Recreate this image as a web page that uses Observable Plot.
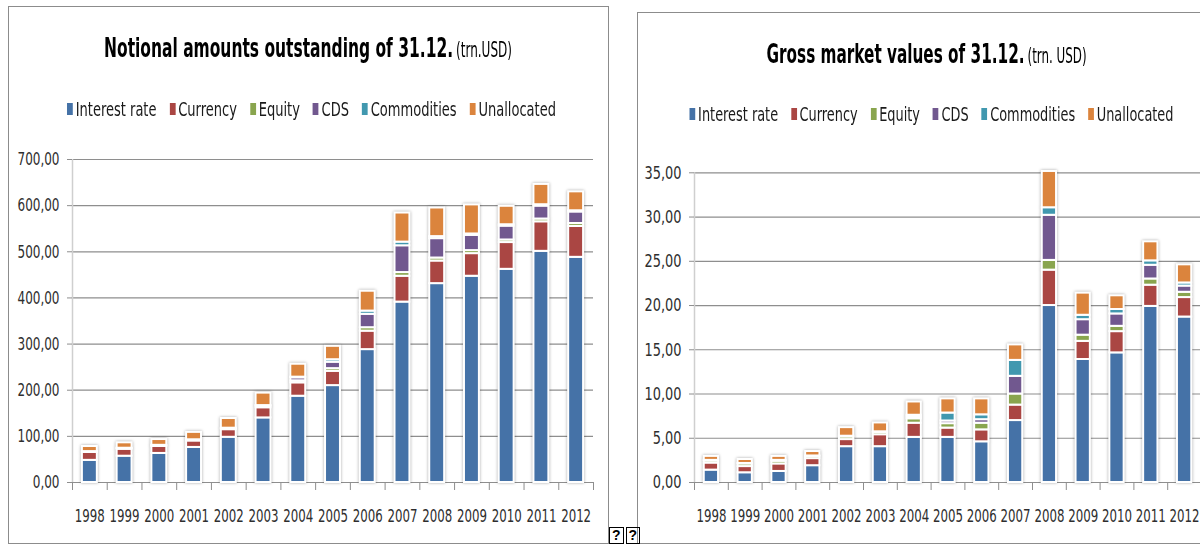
<!DOCTYPE html>
<html><head><meta charset="utf-8">
<script src="https://cdn.jsdelivr.net/npm/d3@7"></script>
<script src="https://cdn.jsdelivr.net/npm/@observablehq/plot@0.6"></script>
<style>
html,body{margin:0;padding:0;background:#fff;width:1200px;height:544px;overflow:hidden;}
body{position:relative;}
.panel{position:absolute;border:1.5px solid #8c8c8c;box-sizing:border-box;background:#fff;}
.title{position:absolute;white-space:nowrap;color:#000;line-height:30px;transform-origin:center center;}
.title b{font-weight:bold;font-size:27px;}
.title span{font-size:21px;}
.legend{position:absolute;white-space:nowrap;display:flex;align-items:center;gap:18px;font-size:20px;line-height:22px;color:#1a1a1a;transform-origin:center center;}
.legend .it{display:flex;align-items:center;gap:4px}
.legend .sw{width:8px;height:12px;display:inline-block}
.chart{position:absolute;overflow:visible;}
.chart svg{max-width:none !important;}
.tofu{position:absolute;top:527px;display:flex;gap:2px;}
.tofu span{display:inline-block;border:1.5px solid #000;font:bold 14px sans-serif;line-height:15px;padding:0 2px;color:#000;}
</style>
</head><body>
<div class="panel" style="left:8px;top:6px;width:601px;height:538px"></div>
<div class="panel" style="left:637px;top:12px;width:620px;height:532px"></div>
<div id="t1" class="title"><b>Notional amounts outstanding of 31.12.</b> <span>(trn.USD)</span></div>
<div id="t2" class="title"><b>Gross market values of 31.12.</b> <span>(trn. USD)</span></div>
<div id="l1" class="legend"></div>
<div id="l2" class="legend"></div>
<div id="c1" class="chart" style="left:0px;top:130px;width:608px;height:410px"></div>
<div id="c2" class="chart" style="left:620px;top:130px;width:600px;height:410px"></div>
<div class="tofu" style="left:609px"><span>?</span><span>?</span></div>
<script>
// ---------- DATA ----------
const years = [1998,1999,2000,2001,2002,2003,2004,2005,2006,2007,2008,2009,2010,2011,2012];
const series = ["Interest rate","Currency","Equity","CDS","Commodities","Unallocated"];
const colors = ["#4572A7","#AA4643","#89A54E","#71588F","#4198AF","#DB843D"];

// Notional amounts outstanding (trn USD)
const notionalInterest    = [48,57,63,76,98,140,187,210,288,391,431,447,462,501,488];
const notionalCurrency    = [17,15,15,14,16.5,22,29,31,40,56,49,49,58,64,67];
const notionalEquity      = [1.5,1.8,2,2,2.3,3.5,4.4,5.8,7.5,8,6.5,6.6,5.6,6,6.3];
const notionalCDS         = [0,0,0,0,0,0,6.5,13.9,29,58,42,33,30,28,25];
const notionalCommodities = [0.5,0.5,0.6,0.6,0.9,1.2,1.4,5.4,7,8,4.4,3,3,3,2.6];
const notionalUnallocated = [11,11.7,12.5,16,21,27,28,29,43,63,62,63,40,44,41];

// Gross market values (trn USD)
const grossInterest    = [1.4,1.1,1.25,1.9,4.05,4.05,5.1,5.1,4.6,7.0,20.0,13.9,14.65,19.9,18.7];
const grossCurrency    = [0.8,0.7,0.85,0.8,0.8,1.35,1.6,1.05,1.35,1.75,4.0,2.05,2.4,2.4,2.2];
const grossEquity      = [0.25,0.3,0.3,0.25,0.3,0.25,0.5,0.5,0.75,1.25,1.1,0.7,0.6,0.7,0.6];
const grossCDS         = [0,0,0,0,0,0,0.2,0.3,0.4,2.0,5.1,1.75,1.4,1.55,0.7];
const grossCommodities = [0.05,0.05,0.1,0.05,0.08,0.08,0.2,0.9,0.55,1.8,0.85,0.5,0.5,0.5,0.35];
const grossUnallocated = [0.45,0.45,0.45,0.5,0.97,1.0,1.5,1.6,1.8,1.75,4.1,2.5,1.55,2.15,2.05];

const notionalTicks = [0,100,200,300,400,500,600,700];
const grossTicks = [0,5,10,15,20,25,30,35];

// ---------- FONT ----------
function pickFont(cands){
  const c = document.createElement("canvas").getContext("2d");
  const s = "Interest rate 1998 700,00";
  c.font = "40px monospace"; const wm = c.measureText(s).width;
  for (const f of cands){
    c.font = `40px "${f}", monospace`; const a = c.measureText(s).width;
    c.font = `40px "${f}", serif`; const b = c.measureText(s).width;
    if (Math.abs(a-b) < 0.01 && Math.abs(a-wm) > 0.01) return f;
  }
  return "Liberation Sans";
}
const FONT = pickFont(["Liberation Sans Narrow","DejaVu Sans Condensed","Roboto Condensed","Arial Narrow","Liberation Sans"]);
const FF = `"${FONT}", "Liberation Sans", sans-serif`;
document.body.style.fontFamily = FF;

// ---------- HELPERS ----------
function rows(arrs){
  const out = [];
  years.forEach((y,i) => series.forEach((s,k) => {
    const v = arrs[k][i];
    if (v > 0) out.push({year:y, i0:i, i1:i+1, series:s, value:v});
  }));
  return out;
}
const fmt = d => d.toFixed(2).replace(".", ",");

function chart({data, ticks, ymax, width, height, mt, mb, ml, mr, inset}){
  const grid = "#8e8e8e";
  return Plot.plot({
    width, height, marginTop: mt, marginBottom: mb, marginLeft: ml, marginRight: mr,
    style: {fontFamily: FF, fontSize: "18px", color: "#2e2e2e", background: "transparent", overflow: "visible"},
    x: {domain: [0, years.length]},
    y: {domain: [0, ymax]},
    color: {domain: series, range: colors},
    marks: [
      Plot.gridY({ticks, stroke: grid, strokeOpacity: 1, strokeWidth: 1.2}),
      Plot.ruleX([0], {stroke: "#cfcfcf", strokeWidth: 1.5}),
      Plot.axisY({ticks, tickSize: 5, tickPadding: 8, tickFormat: fmt, stroke: grid, label: null}),
      Plot.axisX({ticks: d3.range(years.length + 1), tickSize: 8, tickFormat: () => "", stroke: grid, label: null}),
      Plot.axisX({ticks: years.map((y, i) => i + 0.5), tickSize: 0, tickPadding: 27, tickFormat: v => String(years[Math.round(v - 0.5)]), label: null}),
      Plot.rectY(data, {x1: "i0", x2: "i1", y: "value", fill: "series", order: series,
        insetLeft: inset, insetRight: inset, stroke: "white", strokeWidth: 2})
    ]
  });
}

const svg1 = chart({data: rows([notionalInterest,notionalCurrency,notionalEquity,notionalCDS,notionalCommodities,notionalUnallocated]),
  ticks: notionalTicks, ymax: 700, width: 608, height: 410, mt: 29, mb: 58, ml: 72, mr: 15, inset: 9.9});
const svg2 = chart({data: rows([grossInterest,grossCurrency,grossEquity,grossCDS,grossCommodities,grossUnallocated]),
  ticks: grossTicks, ymax: 35, width: 600, height: 410, mt: 42.3, mb: 58, ml: 74, mr: 19, inset: 9.75});
for (const s of [svg1, svg2]) { s.style.maxWidth = "none"; s.style.width = s.getAttribute("width") + "px"; s.style.height = s.getAttribute("height") + "px"; }
document.getElementById("c1").append(svg1);
document.getElementById("c2").append(svg2);

// condense axis texts horizontally to match narrow reference font
function squeeze(svg, targetYW, targetXW){
  const texts = [...svg.querySelectorAll("text")];
  const yTexts = texts.filter(t => /,\d\d$/.test(t.textContent));
  const xTexts = texts.filter(t => /^\d{4}$/.test(t.textContent));
  const yRef = yTexts.reduce((a, t) => (!a || t.textContent.length > a.textContent.length) ? t : a, null);
  const xRef = xTexts[0];
  const sy = yRef ? targetYW / yRef.getComputedTextLength() : 1;
  const sx = xRef ? targetXW / xRef.getComputedTextLength() : 1;
  const apply = (t, s) => {
    if (s >= 1) return;
    const tr = t.getAttribute("transform");
    if (tr) t.setAttribute("transform", tr + ` scale(${s},1)`);
    else {
      const x = +t.getAttribute("x") || 0;
      t.setAttribute("transform", `translate(${x * (1 - s)},0) scale(${s},1)`);
    }
  };
  yTexts.forEach(t => apply(t, sy));
  xTexts.forEach(t => apply(t, sx));
}
squeeze(svg1, 42, 30);
squeeze(svg2, 37, 30);
for (const s of [svg1, svg2]) {
  s.querySelectorAll("g[aria-label='rect']").forEach(g => g.style.filter = "drop-shadow(0 0 1.5px rgba(0,0,0,0.35))");
}

// ---------- LEGENDS ----------
for (const id of ["l1","l2"]) {
  const el = document.getElementById(id);
  series.forEach((s,k) => {
    const it = document.createElement("div"); it.className = "it";
    const sw = document.createElement("span"); sw.className = "sw"; sw.style.background = colors[k];
    const tx = document.createElement("span"); tx.textContent = s;
    it.append(sw, tx); el.append(it);
  });
}

// ---------- FIT TEXT ----------
function place(id, cx, top, targetW){
  const el = document.getElementById(id);
  el.style.left = "0px"; el.style.top = top + "px";
  const w = el.getBoundingClientRect().width;
  const s = targetW / w;
  el.style.left = (cx - w/2) + "px";
  el.style.transform = `scaleX(${s})`;
}
place("t1", 308, 33, 408);
place("t2", 927, 39, 320);
place("l1", 311.5, 98, 489);
place("l2", 931, 103, 484);
</script>
</body></html>
